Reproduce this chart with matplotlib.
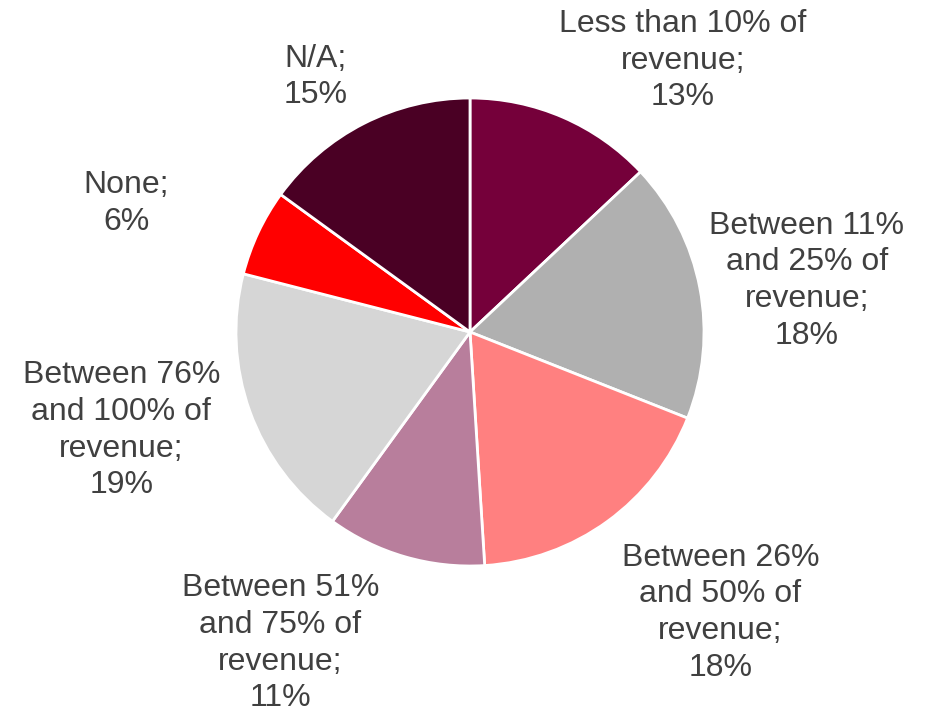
import matplotlib.pyplot as plt

plt.rcParams['font.family'] = ['Liberation Sans', 'DejaVu Sans']

# --- DATA ---
categories = [
    "Less than 10% of\nrevenue;",
    "Between 11%\nand 25% of\nrevenue;",
    "Between 26%\nand 50% of\nrevenue;",
    "Between 51%\nand 75% of\nrevenue;",
    "Between 76%\nand 100% of\nrevenue;",
    "None;",
    "N/A;",
]
shares = [13, 18, 18, 11, 19, 6, 15]
colors = ["#75003A", "#B0B0B0", "#FF8080", "#B87E9C", "#D6D6D6", "#FF0000", "#4A0024"]

# label centres, in units of the pie radius
label_pos = [(0.91, 1.16), (1.44, 0.22), (1.07, -1.20), (-0.81, -1.33),
             (-1.49, -0.42), (-1.47, 0.55), (-0.66, 1.09)]

# --- PLOT ---
W, H = 936, 713
fig = plt.figure(figsize=(W / 100, H / 100), dpi=100)
ax = fig.add_axes([0, 0, 1, 1])

cx, cy, r = 470, 332, 234  # pixel centre and radius

ax.pie(shares, colors=colors, startangle=90, counterclock=False,
       wedgeprops=dict(edgecolor='white', linewidth=2))

for cat, val, (x, y) in zip(categories, shares, label_pos):
    ax.text(x, y, f"{cat}\n{val}%", ha='center', va='center',
            fontsize=23, color='#404040', linespacing=1.29)

ax.set_xlim(-cx / r, (W - cx) / r)
ax.set_ylim(-(H - cy) / r, cy / r)
ax.set_aspect('equal')
ax.set_axis_off()

fig.savefig("out.png", dpi=100, facecolor='white')
